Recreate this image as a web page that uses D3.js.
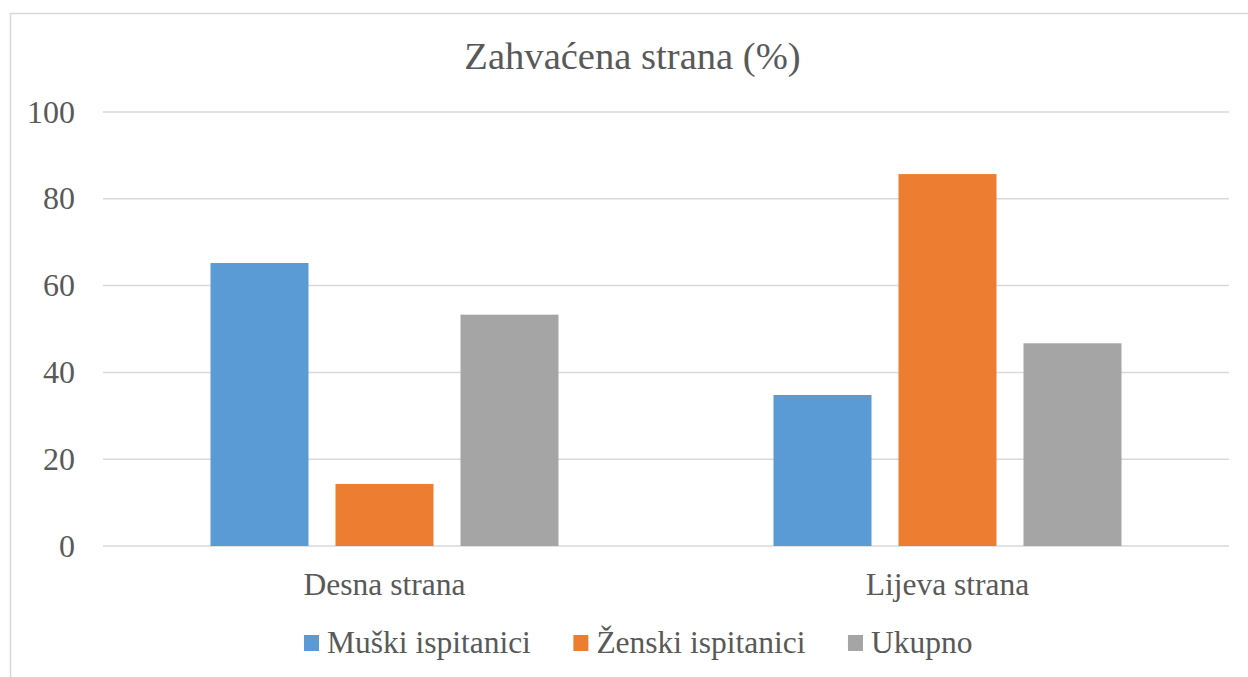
<!DOCTYPE html>
<html>
<head>
<meta charset="utf-8">
<script src="https://cdn.jsdelivr.net/npm/d3@7"></script>
<style>
  body { margin: 0; background: #fff; }
  svg text { font-family: "Liberation Serif", "Times New Roman", serif; fill: #595959; }
</style>
</head>
<body>
<svg id="chart" width="1248" height="677"></svg>
<script>

var categories = ['Desna strana', 'Lijeva strana'];
var series_names = ['Muški ispitanici', 'Ženski ispitanici', 'Ukupno'];
var muski = [65.2, 34.8];
var zenski = [14.3, 85.7];
var ukupno = [53.3, 46.7];
var y_ticks = [0, 20, 40, 60, 80, 100];
var colors = ['#5b9bd5', '#ed7d31', '#a5a5a5'];

var series_values = [muski, zenski, ukupno];

var svg = d3.select('#chart');

var margin = {left: 103, right: 1229, top: 112, bottom: 546};

// chart frame
svg.append('rect')
   .attr('x', 10.5)
   .attr('y', 13.5)
   .attr('width', 1300)
   .attr('height', 700)
   .attr('fill', 'none')
   .attr('stroke', '#d9d9d9')
   .attr('stroke-width', 1.5);

svg.append('text')
   .attr('x', 632.5)
   .attr('y', 69)
   .attr('text-anchor', 'middle')
   .attr('font-size', 38.6)
   .text('Zahvaćena strana (%)');

var x0 = d3.scaleBand().domain(categories).range([margin.left, margin.right]);
var x1 = d3.scaleBand().domain(series_names).range([0, x0.bandwidth()])
           .paddingInner(0.216).paddingOuter(0.86);
var y = d3.scaleLinear().domain([0, 100]).range([margin.bottom, margin.top]);

// gridlines
svg.append('g')
   .selectAll('line')
   .data(y_ticks)
   .enter()
   .append('line')
   .attr('x1', margin.left)
   .attr('x2', margin.right)
   .attr('y1', d => y(d))
   .attr('y2', d => y(d))
   .attr('stroke', '#d9d9d9')
   .attr('stroke-width', 1.5);

// y labels
svg.append('g')
   .selectAll('text')
   .data(y_ticks)
   .enter()
   .append('text')
   .attr('x', 75)
   .attr('y', d => y(d))
   .attr('dy', '0.33em')
   .attr('text-anchor', 'end')
   .attr('font-size', 32)
   .text(d => d);

// bars
var rows = [];
categories.forEach((c, i) => {
  series_names.forEach((s, j) => {
    rows.push({cat: c, name: s, value: series_values[j][i], color: colors[j]});
  });
});

svg.append('g')
   .selectAll('rect')
   .data(rows)
   .enter()
   .append('rect')
   .attr('x', d => x0(d.cat) + x1(d.name))
   .attr('y', d => y(d.value))
   .attr('width', x1.bandwidth())
   .attr('height', d => y(0) - y(d.value))
   .attr('fill', d => d.color);

// category labels
svg.append('g')
   .selectAll('text')
   .data(categories)
   .enter()
   .append('text')
   .attr('x', d => x0(d) + x0.bandwidth() / 2)
   .attr('y', 595)
   .attr('text-anchor', 'middle')
   .attr('font-size', 31.5)
   .text(d => d);

// legend
var legend = svg.append('g');
var lx = 304;
series_names.forEach((s, j) => {
  legend.append('rect')
        .attr('x', lx)
        .attr('y', 635)
        .attr('width', 15)
        .attr('height', 16)
        .attr('fill', colors[j]);
  var t = legend.append('text')
        .attr('x', lx + 23)
        .attr('y', 653)
        .attr('font-size', 31.5)
        .text(s);
  lx += 23 + t.node().getComputedTextLength() + 42.5;
});

</script>
</body>
</html>
